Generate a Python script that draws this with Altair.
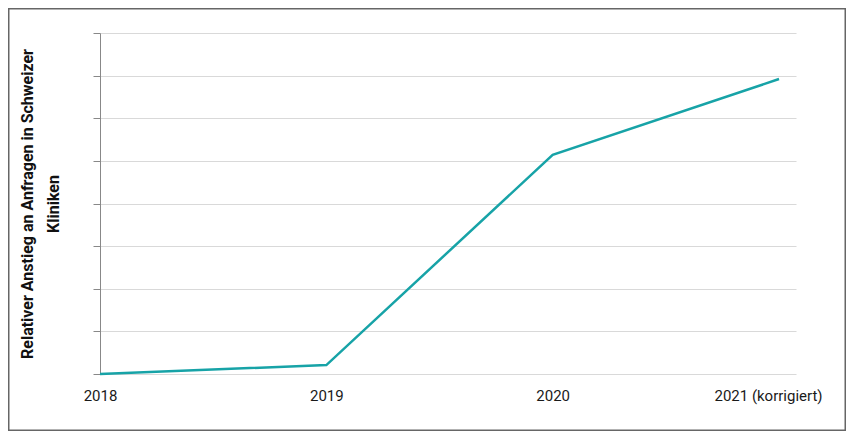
import altair as alt
import pandas as pd

years = ["2018", "2019", "2020", "2021 (korrigiert)"]
positions = [0, 1, 2, 3]
values = [0.0, 0.21, 5.14, 6.92]

df = pd.DataFrame({"pos": positions, "year": years, "value": values})

W, H = 696, 341
PL, PT, PR, PB = 92, 25, 50, 57

label_expr = "[" + ",".join("'" + y + "'" for y in years) + "][datum.value]"

line = alt.Chart(df).mark_line(color="#17a3a7", strokeWidth=2.5).encode(
    x=alt.X("pos:Q",
            scale=alt.Scale(domain=[0, 3.075], nice=False, zero=False),
            axis=alt.Axis(values=positions, labelExpr=label_expr, grid=False,
                          ticks=False, domain=False, labelFlush=False,
                          labelOverlap=False, labelPadding=14, labelFontSize=15,
                          labelOffset={"condition": {"test": "datum.value == 3", "value": -11}, "value": 0},
                          labelFont="Roboto", labelColor="#1a1a1a", title=None)),
    y=alt.Y("value:Q",
            scale=alt.Scale(domain=[0, 8], nice=False),
            axis=alt.Axis(values=list(range(9)), labels=False, ticks=True,
                          tickSize=7, tickColor="#888888", domainColor="#888888",
                          gridColor="#d9d9d9", grid=True,
                          title=["Relativer Anstieg an Anfragen in Schweizer", "Kliniken"],
                          titleFont="Roboto", titleFontSize=16, titleFontWeight="bold",
                          titleColor="#111111", titleLineHeight=26, titlePadding=31)),
)

border = alt.Chart(alt.Data(values=[{"a": 1}])).mark_rect(
    fill=None, stroke="#666666", strokeWidth=1.5
).encode(
    x=alt.value(-PL + 0.75), x2=alt.value(W + PR - 0.75),
    y=alt.value(-PT + 0.75), y2=alt.value(H + PB - 0.75),
)

chart = alt.layer(line, border).properties(
    width=W, height=H,
    autosize=alt.AutoSizeParams(type="none"),
    padding={"left": PL, "top": PT, "right": PR, "bottom": PB},
    background="white",
).configure_view(stroke=None)

chart.save("out.html", embed_options={"renderer": "svg", "actions": False})
